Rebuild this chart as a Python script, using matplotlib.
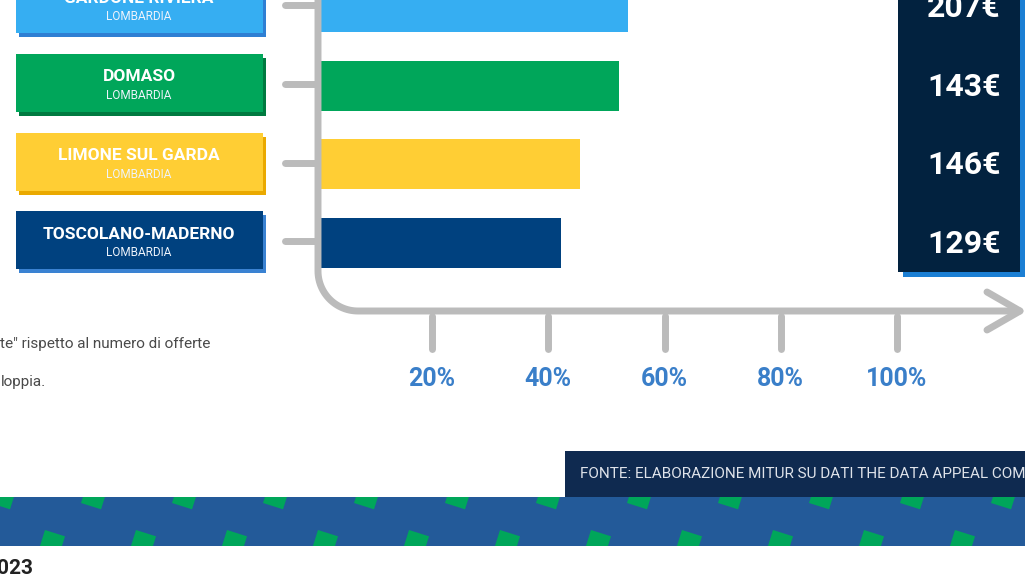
import numpy as np
import matplotlib
matplotlib.use('Agg')
from matplotlib import pyplot as plt
from matplotlib.patches import Rectangle, Polygon

plt.rcParams['font.family'] = ['Roboto', 'DejaVu Sans']

# data
comuni = ['GARDONE RIVIERA', 'DOMASO', 'LIMONE SUL GARDA', 'TOSCOLANO-MADERNO']
regioni = ['LOMBARDIA', 'LOMBARDIA', 'LOMBARDIA', 'LOMBARDIA']
quota = [53.7, 52.1, 45.4, 42.2]          # % on the x axis
prezzo = [207, 143, 146, 129]             # euro
tick_vals = [20, 40, 60, 80, 100]
nota = ['te" rispetto al numero di offerte', 'loppia.']
fonte = 'FONTE: ELABORAZIONE MITUR SU DATI THE DATA APPEAL COMPANY'

# styles
c_fill = ['#36aef2', '#00a65a', '#ffce34', '#00417f']
c_shadow = ['#2f7fd3', '#007a40', '#eaa900', '#3a82d2']
c_axis = '#bbbbbb'
c_tick = '#3a7fc9'
W, H = 1025, 585
y0, step = 7.3, 78.6          # row centre / spacing in pixels
x0, span = 315.75, 581.25     # pixel of 0% and width of 100%

fig = plt.figure(figsize=(W / 100, H / 100), dpi=100)
bg = fig.add_axes([0, 0, 1, 1])
bg.set_xlim(0, W)
bg.set_ylim(H, 0)
bg.axis('off')

def row_y(i):
    return y0 + step * i

def px(v):
    return x0 + v / 100 * span

# label boxes
for i, (name, reg) in enumerate(zip(comuni, regioni)):
    yc = row_y(i) - 3
    bg.add_patch(Rectangle((19, yc - 25), 247, 58, color=c_shadow[i], lw=0))
    bg.add_patch(Rectangle((16, yc - 29), 247, 58, color=c_fill[i], lw=0))
    bg.text(139, yc - 6, name, color='white', fontsize=12.5, fontweight='bold',
            ha='center', va='center')
    bg.text(139, yc + 12.5, reg, color='#eef3fb', fontsize=8.5, ha='center', va='center')
    # stub
    bg.plot([285, 316], [row_y(i) - 2, row_y(i) - 2], color=c_axis, lw=5,
            solid_capstyle='round')

# right panel with prices
bg.add_patch(Rectangle((903, -10), 122, 287, color='#1b7fd4', lw=0))
bg.add_patch(Rectangle((898, -10), 122, 282, color='#02223f', lw=0))
for i, p in enumerate(prezzo):
    bg.text(1001, row_y(i) + 1, f'{p}€', color='white', fontsize=23,
            fontweight='bold', ha='right', va='center')

# footnote
bg.text(0, 344, nota[0], color='#4a4a4a', fontsize=11, va='center')
bg.text(1, 382, nota[1], color='#4a4a4a', fontsize=11, va='center')

# source box and band
bg.add_patch(Rectangle((565, 451), 470, 46, color='#0f2a50', lw=0))
bg.text(580, 474, fonte, color='#dfe3ea', fontsize=11, va='center')
band = Rectangle((0, 497), W, 49, color='#235a99', lw=0)
bg.add_patch(band)
a = np.deg2rad(17.5)
s = 21
u = np.array([np.cos(a), np.sin(a)]) * s
v = np.array([-np.sin(a), np.cos(a)]) * s
for k in range(-1, 12):
    bl = np.array([81 + 91 * k, 503])
    tl = bl - v
    sq = Polygon([tl, tl + u, tl + u + v, tl + v], color='#00a65a', lw=0)
    bg.add_patch(sq)
    sq.set_clip_path(band)
    tl2 = np.array([45 + 91 * k, 530])
    sq2 = Polygon([tl2, tl2 + u, tl2 + u + v, tl2 + v], color='#00a65a', lw=0)
    bg.add_patch(sq2)
    sq2.set_clip_path(band)
bg.text(33, 568, '2023', color='#222222', fontsize=15, fontweight='bold',
        ha='right', va='center')

# bars
top_px = y0 - step / 2
bot_px = y0 + step * 3.5
ax = fig.add_axes([x0 / W, (H - bot_px) / H, span / W, (bot_px - top_px) / H])
ax.patch.set_visible(False)
ax.barh(range(len(comuni)), quota, height=50 / step, color=c_fill)
ax.set_xlim(0, 100)
ax.set_ylim(3.5, -0.5)
ax.axis('off')

# axis frame (curved) drawn on top of bars
t = np.linspace(0, np.pi / 2, 30)
r = 40
xs = np.concatenate([[318, 318], 318 + r - r * np.cos(t), [1020]])
ys = np.concatenate([[-10, 271], 271 + r * np.sin(t), [311]])
ax.plot(xs, ys, color=c_axis, lw=5, transform=bg.transData, clip_on=False,
        zorder=5, solid_capstyle='round', solid_joinstyle='round')
ax.plot([987, 1020, 987], [292, 311, 330], color=c_axis, lw=5,
        transform=bg.transData, clip_on=False, zorder=5,
        solid_capstyle='round', solid_joinstyle='round')
for tv in tick_vals:
    bg.plot([px(tv), px(tv)], [316, 349], color=c_axis, lw=5, solid_capstyle='round')
    bg.text(px(tv), 379, f'{tv}%', color=c_tick, fontsize=18, fontweight='bold',
            ha='center', va='center')

fig.savefig('out.png', dpi=100)
